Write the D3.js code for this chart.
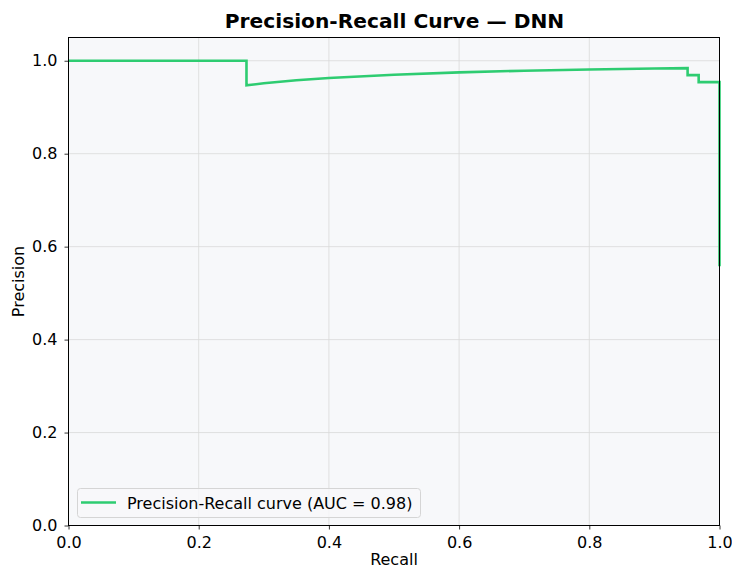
<!DOCTYPE html>
<html><head><meta charset="utf-8">
<script src="https://cdn.jsdelivr.net/npm/d3@7"></script>
<style>body{margin:0;background:#fff}svg{display:block;font-family:"DejaVu Sans",sans-serif}</style>
</head><body><svg id="c" width="732" height="569"></svg>
<script>
const recall =    [0, 0.2734, 0.2734, 0.30, 0.35, 0.40, 0.50, 0.60, 0.70, 0.80, 0.90, 0.951, 0.951, 0.968, 0.968, 1.0, 1.0];
const precision = [1.0, 1.0, 0.947, 0.9515, 0.958, 0.963, 0.970, 0.975, 0.9786, 0.9812, 0.9833, 0.9842, 0.969, 0.969, 0.954, 0.954, 0.558];
const xTicks = [0, 0.2, 0.4, 0.6, 0.8, 1.0];
const yTicks = [0, 0.2, 0.4, 0.6, 0.8, 1.0];
const titleText = "Precision-Recall Curve — DNN";
const legendLabel = "Precision-Recall curve (AUC = 0.98)";

const svg = d3.select("#c");
const L = 68.5, R = 719.5, T = 37.5, B = 525.5;
const x = d3.scaleLinear().domain([0, 1]).range([L, R]);
const y = d3.scaleLinear().domain([0, 1.05]).range([B, T]);

svg.append("rect").attr("x", L).attr("y", T).attr("width", R - L).attr("height", B - T).attr("fill", "#f7f8fa");

// grid
svg.append("g").selectAll("line").data(xTicks).join("line")
  .attr("x1", d => x(d)).attr("x2", d => x(d)).attr("y1", T).attr("y2", B)
  .attr("stroke", "#d9d9d9").attr("stroke-width", 0.8);
svg.append("g").selectAll("line").data(yTicks).join("line")
  .attr("x1", L).attr("x2", R).attr("y1", d => y(d)).attr("y2", d => y(d))
  .attr("stroke", "#d9d9d9").attr("stroke-width", 0.8);

// curve
const pts = recall.map((r, i) => [r, precision[i]]);
svg.append("path").datum(pts)
  .attr("fill", "none").attr("stroke", "#2ecc71").attr("stroke-width", 2.6)
  .attr("stroke-linejoin", "miter")
  .attr("d", d3.line().x(d => x(d[0])).y(d => y(d[1])));

// frame
svg.append("rect").attr("x", L).attr("y", T).attr("width", R - L).attr("height", B - T)
  .attr("fill", "none").attr("stroke", "#000").attr("stroke-width", 1);

// axes
const fmt = d3.format(".1f");
const xa = svg.append("g").attr("transform", `translate(0,${B})`)
  .call(d3.axisBottom(x).tickValues(xTicks).tickFormat(fmt).tickSize(4).tickPadding(7));
const ya = svg.append("g").attr("transform", `translate(${L},0)`)
  .call(d3.axisLeft(y).tickValues(yTicks).tickFormat(fmt).tickSize(4).tickPadding(7));
[xa, ya].forEach(g => {
  g.select(".domain").remove();
  g.selectAll("text").attr("font-size", 16).attr("fill", "#000").attr("font-family", "DejaVu Sans");
  g.selectAll("line").attr("stroke", "#000").attr("stroke-width", 0.8);
});

svg.append("text").attr("x", (L + R) / 2 + 0.5).attr("y", 28).attr("text-anchor", "middle")
  .attr("font-size", 20.2).attr("font-weight", "bold").text(titleText);
svg.append("text").attr("x", (L + R) / 2).attr("y", 565).attr("text-anchor", "middle")
  .attr("font-size", 16).text("Recall");
svg.append("text").attr("transform", `translate(24,${(T + B) / 2}) rotate(-90)`).attr("text-anchor", "middle")
  .attr("font-size", 16).text("Precision");

// legend
const lg = svg.append("g");
lg.append("rect").attr("x", 77.5).attr("y", 488.5).attr("width", 343).attr("height", 29).attr("rx", 3)
  .attr("fill", "#f7f8fa").attr("fill-opacity", 0.8).attr("stroke", "#d5d5d5");
lg.append("line").attr("x1", 81).attr("x2", 116).attr("y1", 502.5).attr("y2", 502.5)
  .attr("stroke", "#2ecc71").attr("stroke-width", 2.6);
lg.append("text").attr("x", 127).attr("y", 508.5).attr("font-size", 16).text(legendLabel);
</script></body></html>
